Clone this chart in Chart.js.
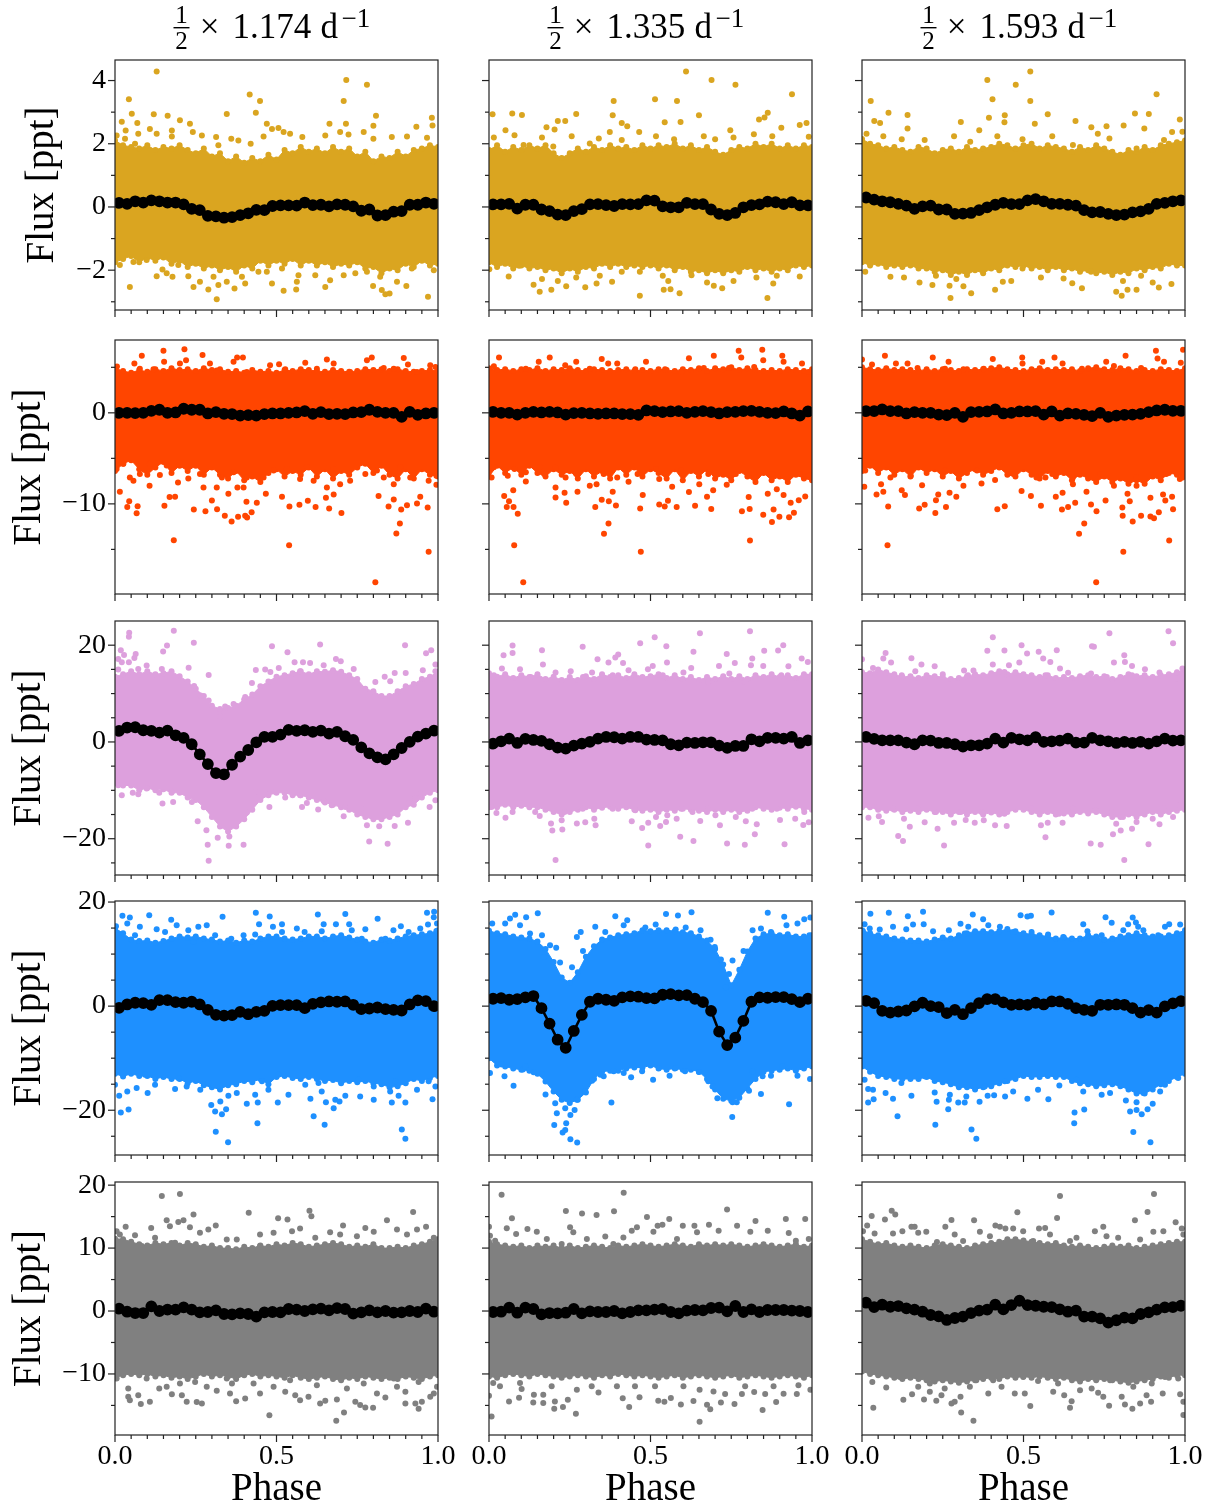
<!DOCTYPE html>
<html>
<head>
<meta charset="utf-8">
<title>Phase folded light curves</title>
<script src="https://cdn.jsdelivr.net/npm/chart.js@4"></script>
<style>
body { margin: 0; background: #fff; }
canvas { position: absolute; }
</style>
</head>
<body>
<script>
// phase of the 40 black bins, and of the edge values of the dense cloud
const binPhase = [.0125,.0375,.0625,.0875,.1125,.1375,.1625,.1875,.2125,.2375,.2625,.2875,.3125,.3375,.3625,.3875,.4125,.4375,.4625,.4875,.5125,.5375,.5625,.5875,.6125,.6375,.6625,.6875,.7125,.7375,.7625,.7875,.8125,.8375,.8625,.8875,.9125,.9375,.9625,.9875];
const edgePhase = [0,.025,.05,.075,.1,.125,.15,.175,.2,.225,.25,.275,.3,.325,.35,.375,.4,.425,.45,.475,.5,.525,.55,.575,.6,.625,.65,.675,.7,.725,.75,.775,.8,.825,.85,.875,.9,.925,.95,.975,1];

const freqs = ["1.174", "1.335", "1.593"];
const rowColors = ["#DAA520", "#FF4500", "#DDA0DD", "#1E90FF", "#808080"];
const yMin = [-3.26, -19.9, -27.5, -28.6, -19.7];
const yMax = [4.65, 8.0, 25, 20.2, 20.5];
const yMajor = [[-2,0,2,4], [-10,0], [-20,0,20], [-20,0,20], [-10,0,10,20]];
const yMinor = [[-3,-1,1,3], [-15,-5,5], [-25,-15,-10,-5,5,10,15], [-25,-15,-10,-5,5,10,15], [-15,-5,5,15]];
const xMajor = [0, .5, 1];
const xMinor = [.05,.1,.15,.2,.25,.3,.35,.4,.45,.55,.6,.65,.7,.75,.8,.85,.9,.95];

// row 1
const curveA1 = [.13,.1,.18,.14,.21,.18,.14,.14,.08,-.06,-.1,-.28,-.3,-.34,-.32,-.26,-.2,-.09,-.1,.03,.05,.05,.04,.14,.06,.07,.02,.08,.07,.02,-.12,-.08,-.27,-.26,-.15,-.13,.07,.07,.14,.1];
const topA1 = [2.1,1.95,1.9,1.85,1.95,1.8,1.9,1.85,1.95,1.8,1.7,1.85,1.6,1.7,1.45,1.6,1.4,1.55,1.45,1.65,1.5,1.8,1.7,1.9,1.75,1.85,1.7,1.9,1.75,1.85,1.6,1.75,1.45,1.6,1.55,1.75,1.6,1.8,1.85,1.95,1.9];
const lowA1 = [-1.75,-1.65,-1.55,-1.75,-1.6,-1.7,-1.6,-1.8,-1.7,-1.9,-1.8,-1.95,-1.85,-2,-1.9,-2.05,-1.85,-1.95,-1.7,-1.85,-1.7,-1.8,-1.65,-1.85,-1.7,-1.85,-1.75,-1.9,-1.8,-1.85,-1.75,-1.95,-1.9,-2.1,-1.95,-2,-1.8,-1.9,-1.7,-1.85,-1.8];
const dotsA1 = [[.129,4.29],[.043,3.41],[.052,2.95],[.021,2.7],[.069,2.66],[.033,2.42],[.12,2.93],[.163,2.89],[.346,2.94],[.417,3.56],[.449,3.35],[.436,2.98],[.47,2.63],[.716,4.02],[.708,3.35],[.78,3.87],[.808,2.89],[.715,2.63],[.8,2.57],[.981,2.82],[.983,2.58],[.933,2.54],[.046,-2.53],[.129,-2.19],[.178,-2.21],[.243,-2.53],[.315,-2.92],[.289,-2.61],[.32,-2.47],[.37,-2.58],[.403,-2.42],[.486,-2.42],[.522,-2.65],[.561,-2.61],[.563,-2.37],[.651,-2.53],[.799,-2.5],[.826,-2.63],[.837,-2.76],[.85,-2.74],[.902,-2.5],[.969,-2.84],[.015,-1.84],[.057,-1.74],[.098,-1.68],[.147,-1.98],[.16,-2.1],[.196,-1.84],[.227,-2.19],[.263,-2.37],[.305,-2.21],[.346,-2.37],[.393,-2.21],[.444,-2.05],[.47,-2.05],[.517,-1.95],[.568,-2.16],[.62,-2.16],[.666,-2.32],[.708,-2.16],[.744,-2.1],[.78,-2.05],[.821,-2.21],[.873,-2.37],[.919,-1.95],[.987,-2],[.005,2.26],[.031,2.16],[.062,2],[.072,2.32],[.108,2.47],[.129,2.32],[.176,2.42],[.176,2.23],[.201,2.74],[.232,2.63],[.241,2.37],[.269,2.26],[.313,2.21],[.32,1.95],[.36,2.16],[.382,2.1],[.42,2],[.46,2.23],[.486,2.47],[.506,2.5],[.522,2.37],[.542,2.32],[.58,2.21],[.651,2.26],[.664,2.63],[.697,2.37],[.723,2.29],[.77,2.37],[.8,2.16],[.857,2.21],[.904,2.23],[.966,2.19]];

const curveA2 = [.08,.08,.1,-.05,.07,.07,-.08,-.13,-.24,-.26,-.13,-.07,.08,.09,.06,.03,.09,.08,.09,.21,.2,.02,-.01,-.01,.13,.09,.09,-.08,-.22,-.26,-.19,-.01,.06,.08,.17,.15,.09,.15,.05,.05];
const topA2 = [1.8,1.95,1.75,1.9,1.8,1.95,1.85,1.95,1.7,1.55,1.7,1.85,1.75,1.9,1.8,1.95,1.85,1.9,1.8,1.95,1.85,1.95,1.9,2,1.85,1.95,1.8,1.9,1.75,1.65,1.8,1.9,1.85,2,1.9,2,1.85,1.95,1.85,1.95,1.9];
const lowA2 = [-1.75,-1.9,-1.8,-1.95,-1.85,-1.95,-1.9,-2,-1.95,-2.1,-1.95,-2.05,-1.9,-1.95,-1.8,-1.9,-1.8,-1.9,-1.85,-1.9,-1.85,-1.95,-1.85,-2,-1.9,-2.05,-2,-2.1,-2,-2.1,-2,-2.05,-1.9,-2,-1.95,-2.05,-1.95,-2,-1.85,-1.9,-1.85];
const dotsA2 = [[.011,2.93],[.072,2.96],[.102,2.91],[.27,2.94],[.386,3.35],[.383,2.9],[.514,3.41],[.582,3.35],[.61,4.29],[.689,4.02],[.763,3.87],[.938,3.57],[.863,2.98],[.853,2.83],[.836,2.77],[.65,2.9],[.544,2.68],[.593,2.69],[.411,2.66],[.428,2.55],[.213,2.72],[.236,2.72],[.178,2.52],[.203,2.45],[.983,2.66],[.962,2.59],[.905,2.51],[.747,2.43],[.465,2.37],[.374,2.37],[.051,2.43],[.015,2.2],[.079,2.27],[.164,2.2],[.256,2.24],[.34,2.17],[.411,2.12],[.517,2.24],[.573,2.14],[.665,2.24],[.7,2.14],[.757,2.2],[.82,2.3],[.877,2.24],[.99,2.22],[.107,1.96],[.199,1.91],[.312,2.01],[.467,-2.81],[.862,-2.88],[.157,-2.68],[.193,-2.62],[.138,-2.46],[.239,-2.51],[.298,-2.54],[.333,-2.42],[.381,-2.37],[.541,-2.62],[.562,-2.6],[.59,-2.73],[.722,-2.57],[.696,-2.49],[.88,-2.42],[.675,-2.39],[.061,-2.2],[.164,-2.28],[.213,-2.34],[.27,-2.23],[.343,-2.18],[.411,-2.05],[.467,-2.05],[.538,-2.18],[.555,-2.34],[.627,-2.16],[.828,-2.23],[.891,-2.18],[.962,-2.2],[.757,-2.34],[.001,-1.97],[.093,-1.86]];

const curveA3 = [.3,.23,.18,.15,.1,.04,-.06,.02,.04,-.08,-.08,-.22,-.21,-.19,-.1,-.01,.07,.13,.09,.09,.21,.25,.18,.1,.1,.07,.04,-.1,-.17,-.16,-.22,-.26,-.24,-.17,-.14,-.06,.1,.13,.18,.21];
const topA3 = [2.15,2,1.95,1.85,1.9,1.8,1.75,1.9,1.85,1.7,1.8,1.85,1.75,1.9,1.8,1.85,1.9,2,1.95,1.85,1.95,2,1.85,1.95,1.9,1.85,1.75,1.9,1.8,1.95,1.85,1.75,1.65,1.8,1.75,1.9,1.8,1.95,2,2.05,2.1];
const lowA3 = [-1.75,-1.85,-1.8,-1.9,-1.85,-1.9,-1.85,-1.95,-1.95,-2.05,-2,-2.15,-2.05,-2.15,-2,-2.1,-1.95,-2,-1.85,-1.9,-1.85,-1.95,-1.9,-2,-1.9,-2,-1.95,-2.05,-2,-2.1,-2.05,-2.15,-2.05,-2.1,-1.95,-2,-1.9,-1.95,-1.8,-1.85,-1.85];
const dotsA3 = [[.027,3.35],[.082,2.98],[.141,2.91],[.388,4.02],[.404,3.41],[.476,3.87],[.521,4.29],[.521,3.35],[.442,2.9],[.575,2.93],[.845,2.96],[.888,2.94],[.912,3.57],[.984,2.77],[.393,2.82],[.306,2.69],[.038,2.72],[.056,2.66],[.441,2.68],[.535,2.63],[.661,2.72],[.71,2.52],[.757,2.55],[.81,2.58],[.874,2.48],[.96,2.37],[.141,2.48],[.363,2.43],[.014,2.32],[.066,2.24],[.123,2.14],[.194,2.12],[.285,2.24],[.335,2.06],[.419,2.24],[.497,2.14],[.589,2.24],[.653,1.96],[.73,2.32],[.766,2.17],[.85,1.85],[.935,2.12],[.992,2.38],[.274,-2.88],[.338,-2.73],[.412,-2.62],[.681,-2.57],[.787,-2.68],[.804,-2.81],[.85,-2.62],[.822,-2.62],[.919,-2.55],[.958,-2.44],[.651,-2.41],[.218,-2.47],[.178,-2.39],[.271,-2.49],[.314,-2.51],[.436,-2.37],[.462,-2.34],[.9,-2.39],[.088,-2.21],[.13,-2.23],[.229,-2.18],[.292,-2.28],[.497,-1.95],[.554,-2.23],[.624,-2.26],[.709,-2.05],[.808,-2.34],[.864,-2.18],[.01,-2.05],[.984,-1.76]];

// row 2
const curveB1 = [0,0,-.04,0,.22,.34,0,.04,.45,.34,.34,-.07,.07,-.11,-.15,-.3,-.26,-.3,-.15,-.07,-.07,0,.04,.19,-.11,.07,-.15,-.11,-.15,.04,.07,.34,.11,0,0,-.45,.11,-.22,-.07,0];
const topB1 = [4.9,4.6,4.4,4.7,4.5,4.8,4.6,4.9,4.7,4.8,4.6,4.9,4.7,4.8,4.5,4.6,4.4,4.7,4.5,4.6,4.4,4.7,4.6,4.8,4.7,4.6,4.5,4.7,4.6,4.5,4.6,4.8,4.7,4.8,4.6,4.8,4.6,4.5,4.6,4.7,4.6];
const lowB1 = [-6.4,-5.6,-5.2,-6.2,-6.8,-6,-5.4,-6.6,-5.8,-6.4,-5.8,-6.8,-6,-6.8,-7.2,-6.4,-7.4,-7,-7.6,-6.6,-6.2,-7,-6.4,-6.8,-6,-7,-6.2,-7.2,-6.4,-6.8,-6,-5.6,-6.6,-5.8,-6.8,-7.2,-6.2,-7.2,-6.2,-6.8,-7];
const dotsB1 = [[.006,5.1],[.083,6.27],[.15,6.83],[.215,6.98],[.271,6.34],[.152,5.6],[.06,5.41],[.201,5.41],[.22,5.78],[.294,5.41],[.378,6.08],[.396,6.08],[.367,5.6],[.48,5.22],[.508,5.34],[.589,5.49],[.656,5.86],[.677,5.41],[.78,5.78],[.795,6.08],[.894,6.01],[.907,5.3],[.976,5.22],[.992,5.04],[.077,4.85],[.119,4.78],[.315,4.66],[.408,4.48],[.527,4.78],[.625,4.85],[.728,4.48],[.832,4.93],[.863,4.85],[.935,4.48],[.806,-18.6],[.182,-14],[.539,-14.55],[.971,-15.26],[.871,-13.25],[.882,-12.16],[.067,-11.04],[.015,-8.66],[.038,-10.34],[.044,-9.7],[.07,-10.26],[.153,-10.22],[.169,-9.25],[.186,-9.22],[.195,-7.65],[.107,-8.02],[.244,-10.63],[.28,-10.82],[.316,-10.6],[.3,-9.63],[.34,-11.3],[.361,-11.94],[.381,-11.42],[.403,-11.3],[.409,-11.5],[.423,-10.93],[.407,-9.78],[.439,-9.89],[.467,-8.88],[.517,-9.22],[.54,-10.3],[.571,-10.11],[.597,-9.66],[.621,-10.34],[.663,-10.52],[.701,-11],[.677,-8.96],[.653,-9.33],[.816,-9.14],[.847,-10.3],[.863,-9.51],[.886,-10.63],[.904,-10.15],[.935,-9.96],[.968,-10.41],[.945,-9.22],[.995,-7.91],[.351,-8.88],[.379,-8.21],[.398,-8.21],[.274,-8.21],[.315,-8.21],[.227,-7.2],[.139,-6.83],[.046,-7.09],[.057,-7.46],[.077,-6.72],[.108,-5.6],[.005,-6.16],[.026,-5.6],[.16,-5.78],[.201,-5.6],[.263,-6.72],[.331,-7.09],[.367,-6.53],[.408,-7.09],[.46,-7.09],[.491,-6.34],[.532,-6.16],[.573,-7.28],[.615,-7.46],[.656,-8.21],[.697,-7.84],[.728,-7.46],[.775,-6.72],[.811,-6.34],[.832,-7.09],[.863,-7.84],[.914,-7.09],[.971,-7.46],[.995,-6.9],[.594,-5.97],[.677,-6.16],[.883,-5.97]];

const curveB2 = [.11,0,0,-.19,0,.11,.04,.11,.04,-.19,-.04,0,-.07,-.11,-.07,-.07,-.15,-.15,-.22,.26,.19,.07,.15,.19,0,.11,.19,.07,-.07,.07,.11,.19,.22,.11,0,-.04,.15,-.07,-.3,.15];
const topB2 = [4.9,4.7,4.8,4.6,4.8,4.7,4.9,4.6,4.8,4.7,4.9,4.7,4.6,4.8,4.7,4.6,4.7,4.8,4.6,4.7,4.6,4.8,4.7,4.6,4.8,4.7,4.9,4.6,4.9,4.8,5,4.7,4.9,4.7,4.6,4.7,4.6,4.8,4.7,4.6,4.8];
const lowB2 = [-7,-5.8,-6.6,-6,-6.8,-5.8,-6.6,-7,-6.2,-6.8,-6.4,-7.2,-6.2,-7,-6.4,-7.2,-6,-6.8,-6,-7,-6.2,-6.6,-7.2,-6.2,-7.4,-6.4,-7,-6.2,-7.2,-6.8,-7.4,-6.4,-7,-7.6,-6.6,-7.4,-7,-7.6,-6.8,-7.2,-7.4];
const dotsB2 = [[.031,6.08],[.188,6.08],[.349,5.9],[.619,6],[.696,6.27],[.773,6.83],[.846,6.94],[.781,6.08],[.908,6.27],[.912,5.6],[.969,5.41],[.849,5.78],[.486,5.6],[.369,5.41],[.27,5.6],[.154,5.6],[.015,5.11],[.236,5.22],[.397,5.41],[.545,4.78],[.665,4.93],[.743,4.93],[.821,5.04],[.99,4.48],[.114,4.85],[.312,4.85],[.453,4.78],[.595,4.48],[.106,-18.6],[.078,-14.55],[.47,-15.26],[.808,-14.03],[.356,-13.28],[.37,-12.16],[.089,-11.08],[.076,-10.34],[.055,-10.34],[.062,-9.7],[.047,-9.14],[.075,-8.51],[.114,-7.54],[.206,-9.29],[.206,-8.21],[.239,-9.89],[.234,-8.77],[.274,-8.66],[.329,-10.34],[.349,-9.55],[.371,-9.7],[.393,-10.19],[.383,-8.66],[.468,-10.52],[.476,-9.03],[.527,-10.07],[.544,-10.3],[.554,-9.66],[.581,-10.34],[.638,-10.22],[.619,-8.69],[.675,-9.22],[.688,-10.56],[.694,-8.51],[.783,-10.82],[.807,-10.56],[.804,-9.25],[.849,-11.19],[.876,-11.98],[.881,-10.63],[.899,-11.42],[.929,-11.46],[.944,-10.97],[.979,-9.18],[.959,-9.59],[.934,-9.89],[.912,-9.03],[.863,-8.88],[.891,-8.4],[.736,-7.91],[.651,-7.84],[.567,-8.13],[.527,-7.28],[.432,-7.57],[.312,-8.02],[.333,-7.84],[.237,-7.09],[.171,-6.72],[.114,-6.53],[.058,-6.9],[.008,-7.09],[.015,-5.97],[.079,-6.16],[.157,-5.97],[.206,-6.04],[.27,-6.72],[.355,-6.72],[.397,-7.09],[.46,-6.72],[.517,-6.16],[.595,-6.34],[.679,-6.72],[.764,-6.72],[.821,-6.72],[.877,-6.72],[.962,-6.72],[.99,-6.9]];

const curveB3 = [.19,.19,.37,.19,.19,-.07,.07,0,0,-.19,-.26,0,-.45,.07,.11,.15,.37,-.07,0,.15,.15,.19,-.19,.15,-.3,-.07,-.11,-.22,-.37,0,-.45,-.3,-.22,-.19,-.11,.07,.26,.34,.22,.22];
const topB3 = [5,4.8,4.7,4.9,4.7,4.8,4.7,4.6,4.8,4.6,4.8,4.7,4.6,4.8,4.7,4.8,4.9,5,4.8,4.7,4.6,4.8,4.9,4.7,4.8,4.7,4.8,4.6,4.9,5,4.8,4.7,4.9,4.8,4.6,4.7,4.6,4.8,4.7,4.6,4.9];
const lowB3 = [-6.4,-5.8,-6.6,-6,-6.8,-6.2,-7,-6,-6.6,-6.2,-7,-6.4,-7.2,-6.6,-6.2,-6.8,-6.4,-6,-6.8,-7,-6.2,-6.8,-7.2,-6.4,-7,-6.6,-7.4,-6.8,-7.2,-7.6,-7,-7.6,-7.2,-7.8,-7.4,-7.8,-7,-7.4,-6.6,-6.8,-7];
const dotsB3 = [[0,5.86],[.071,6.27],[.219,6.08],[.268,5.6],[.405,5.9],[.496,6.08],[.596,6.08],[.558,5.6],[.621,5.41],[.816,6.27],[.756,5.6],[.91,6.83],[.915,5.97],[.994,6.94],[.987,5.49],[.935,5.6],[.031,5.3],[.105,5.41],[.141,5.41],[.257,4.85],[.377,4.85],[.497,5.41],[.681,4.85],[.78,5.15],[.864,4.93],[.172,4.93],[.314,4.78],[.725,-18.6],[.079,-14.55],[.809,-15.26],[.951,-14.03],[.672,-13.28],[.688,-12.16],[.081,-10.3],[.177,-10.52],[.194,-10.11],[.227,-11],[.26,-10.34],[.419,-10.6],[.442,-10.26],[.554,-10.22],[.619,-10.63],[.638,-10.34],[.66,-9.89],[.726,-10.82],[.754,-9.63],[.806,-10.41],[.807,-11.3],[.838,-11.94],[.864,-11.3],[.893,-11.38],[.904,-11.57],[.919,-10.93],[.963,-10.6],[.939,-9.63],[.96,-9.22],[.932,-8.96],[.893,-9.33],[.822,-8.88],[.829,-9.7],[.709,-10.07],[.695,-8.66],[.6,-9.22],[.621,-8.77],[.523,-9.14],[.494,-8.58],[.292,-9.22],[.271,-8.77],[.236,-8.96],[.229,-9.59],[.133,-9.03],[.123,-8.51],[.066,-8.66],[.045,-8.96],[.007,-8.13],[.059,-7.84],[.186,-7.95],[.314,-8.02],[.37,-7.76],[.412,-7.39],[.54,-7.09],[.568,-7.09],[.653,-7.84],[.78,-8.02],[.85,-8.02],[.984,-7.28],[.01,-6.34],[.088,-7.09],[.151,-6.9],[.257,-6.34],[.356,-6.34],[.469,-6.72],[.589,-6.72],[.653,-7.09],[.737,-6.72],[.85,-7.09],[.942,-6.72],[.992,-7.09]];

// row 3
const curveC1 = [2.28,2.98,3.04,2.42,2.28,1.94,2.35,1.38,.83,-.48,-2.56,-4.57,-6.44,-6.71,-4.71,-3.04,-1.66,-.07,1.04,1.04,1.52,2.49,2.28,2.42,2.08,2.35,1.73,2.08,1.18,.42,-1.11,-2.35,-3.18,-3.6,-2.56,-1.25,0,1.11,1.73,2.35];
const topC1 = [13.5,14,14.6,14,14.6,14,14.2,14.6,13.6,12.5,11,9.5,7.5,6.8,7,7.5,8.8,9.8,11.5,12.5,13.5,13.8,14.2,14.6,14,14.6,14.5,14.8,14.5,13.8,13,11,10.5,9.5,9.5,10.5,11.5,12,13,13.5,14.5];
const lowC1 = [-8.5,-9,-9,-10,-9.5,-10,-9.8,-10.5,-10.5,-11.5,-12,-13.5,-15.5,-17.5,-18.5,-17.5,-16,-14,-12,-11,-10.5,-10.5,-11,-11,-11.5,-12,-12.5,-13,-13.5,-14,-15,-15.5,-16,-16,-15.5,-15,-13.5,-13,-11.5,-10.5,-10];
const dotsC1 = [[.182,22.98],[.044,22.56],[.043,21.73],[.244,20.48],[.161,19.93],[.149,18.69],[.018,18.96],[.028,17.99],[.064,18.2],[.01,17.16],[.021,16.47],[.043,16.47],[.06,17.37],[.098,15.78],[.072,15.09],[.145,15.09],[.228,15.36],[.01,14.95],[.29,13.84],[.245,11.56],[.265,9.62],[.29,8.58],[.486,19.79],[.635,20.14],[.534,18.55],[.898,20],[.979,18.96],[.963,18.34],[.556,16.47],[.582,16.47],[.604,16.33],[.646,15.85],[.684,17.16],[.699,16.68],[.436,14.88],[.465,14.95],[.507,15.29],[.481,14.46],[.739,15.09],[.806,12.39],[.835,13.49],[.866,14.26],[.9,14.26],[.953,14.81],[.992,15.99],[.992,14.6],[.852,12.53],[.573,14.6],[.424,12.18],[.367,7.82],[.403,9.27],[.325,5.26],[.341,7.34],[.29,-24.57],[.287,-21.25],[.352,-21.45],[.398,-21.25],[.354,-19.52],[.318,-19.79],[.283,-18.27],[.256,-16.4],[.787,-20.55],[.844,-21.04],[.78,-17.23],[.866,-17.37],[.818,-17.44],[.907,-16.68],[.708,-15.36],[.629,-13.98],[.478,-13.43],[.408,-14.6],[.147,-12.73],[.18,-12.39],[.072,-10.8],[.021,-11],[.055,-10.52],[.137,-10.52],[.579,-13.43],[.594,-12.6],[.974,-13.43],[.992,-12.04],[.945,-10.66],[.468,-10.8],[.527,-11.49],[.646,-12.18],[.671,-13.08],[.713,-13.43],[.764,-13.77],[.01,-8.93],[.098,-9.62],[.176,-10.31],[.238,-12.39],[.434,-10.31],[.496,-10.31],[.573,-11],[.909,-12.73],[.93,-11.7]];

const curveC2 = [-.34,.14,.69,-.21,.62,.41,.21,-.48,-1.17,-1.38,-.76,-.34,0,.69,1.03,.97,.69,1.03,1.03,.48,.41,.34,-.48,-.69,-.14,-.21,-.07,-.07,-.76,-1.24,-.83,-.83,.55,.14,.83,.83,.69,1.03,-.21,.34];
const topC2 = [14.2,13.5,14,13.2,13.8,13.4,14,13,13.5,12.8,13.4,12.8,13.6,13,14,13.4,13.8,13.2,14,13.4,13.6,14,13.2,13.8,13,13.4,12.8,13.4,13,13.6,13,13.6,13,13.8,13.4,14,13.4,13.8,13.2,14,14];
const lowC2 = [-13.5,-13.5,-13,-13.5,-13.2,-13.5,-13.5,-14,-14.5,-15,-14.5,-14,-13.5,-14,-13.6,-13.4,-13.8,-13.5,-14,-14.2,-14,-14.5,-14,-14.2,-13.8,-14,-14.2,-14.5,-14,-14.5,-14,-14.5,-14.2,-13.5,-13.8,-14,-13.6,-13.8,-13.4,-13.8,-14];
const dotsC2 = [[.808,22.9],[.653,22.48],[.513,21.66],[.468,20.41],[.549,19.79],[.073,19.93],[.073,18.41],[.045,17.93],[.164,18.97],[.29,19.66],[.633,18.62],[.911,20],[.895,18.9],[.852,18.83],[.736,18.2],[.815,17.24],[.968,17.24],[.987,16.55],[.4,18.07],[.391,17.45],[.336,17.1],[.37,16.41],[.415,16.34],[.551,16.41],[.507,15.72],[.492,15.03],[.167,16],[.04,15.17],[.096,15.03],[.206,14.34],[.253,14.62],[.319,14.34],[.432,14.83],[.602,14.34],[.626,15.31],[.712,15.72],[.761,16.34],[.744,14.14],[.811,15.86],[.849,15.72],[.927,15.66],[.015,13.79],[.129,13.45],[.291,13.45],[.383,13.79],[.538,13.79],[.679,12.41],[.983,13.45],[.905,13.79],[.792,12.41],[.206,-24.41],[.493,-21.38],[.592,-19.59],[.633,-20.48],[.737,-20.97],[.792,-21.24],[.915,-21.17],[.823,-19.1],[.196,-18.28],[.227,-18.07],[.192,-16.83],[.33,-17.24],[.298,-16.62],[.272,-16.83],[.474,-17.79],[.442,-16.41],[.53,-17.38],[.493,-16.69],[.548,-16.55],[.973,-17.17],[.99,-16.62],[.829,-17.03],[.795,-16.41],[.901,-16.14],[.715,-17.24],[.654,-16.34],[.023,-14.69],[.051,-15.66],[.073,-14.48],[.143,-14.48],[.157,-15.31],[.225,-16.2],[.234,-14.48],[.326,-15.86],[.383,-13.79],[.453,-14.14],[.517,-15.52],[.552,-15.17],[.581,-15.86],[.63,-14.48],[.701,-15.17],[.764,-15.52],[.815,-13.79],[.948,-15.86],[.976,-14.48],[.595,-13.79],[.679,-13.79],[.891,-13.79],[.008,-13.45],[.102,-12.76],[.29,-13.79]];

const curveC3 = [1.03,.62,.34,.34,.34,-.14,-.48,.34,.28,-.21,-.21,-.48,-.97,-.69,-.69,-.34,.69,-.14,.83,.55,.34,.97,0,.14,.28,.69,-.14,-.14,.83,.34,.14,-.21,0,-.21,0,-.34,.14,.69,.28,.34];
const topC3 = [14.4,14.2,15,14.4,14,13.4,13.6,13.2,13.8,13.6,13.4,13,13.2,13.6,14,13.8,14.2,14.6,14,14.4,14,13.8,13.4,13.8,13.2,13.4,13.2,13.6,13.8,13.4,13.6,13,13.4,14,13.6,13.8,13.4,13.8,14,14.4,15];
const lowC3 = [-13.5,-13.5,-14,-14.2,-14,-14.5,-14.2,-14.5,-14,-14.5,-14.5,-15,-14.5,-15,-14.5,-15,-14.6,-15,-14.5,-14,-14,-14.5,-15,-14.5,-15,-14.8,-15,-14.5,-14.8,-14.5,-15,-15.5,-15.5,-15,-15.5,-15,-14.5,-15,-14.5,-14.2,-14];
const dotsC3 = [[.949,22.9],[.766,22.48],[.405,21.66],[.494,20],[.712,19.79],[.718,19.66],[.963,20.41],[.388,18.83],[.441,18.9],[.511,18.28],[.603,18.97],[.547,18.62],[.812,17.93],[0,17.1],[.073,18.41],[.066,17.24],[.09,16.41],[.153,17.31],[.184,16],[.583,16.55],[.561,17.24],[.78,16.41],[.814,16.55],[.836,15.72],[.992,15.17],[.034,15.31],[.165,14.62],[.225,15.66],[.25,14],[.316,14.76],[.345,14.76],[.405,16],[.455,15.86],[.487,16.41],[.613,15.17],[.638,14.28],[.709,14.14],[.758,13.45],[.876,15.03],[.921,14.34],[.017,13.79],[.123,13.79],[.328,13.79],[.441,14.48],[.568,13.79],[.836,13.79],[.977,13.1],[.812,-24.41],[.254,-21.38],[.127,-20.48],[.112,-19.45],[.568,-19.72],[.708,-20.97],[.739,-21.24],[.887,-21.17],[.777,-19.1],[.234,-17.93],[.148,-17.55],[.412,-17.24],[.448,-17.38],[.285,-16.69],[.194,-16.62],[.062,-16.55],[.02,-15.66],[.052,-15.38],[.13,-15.86],[.321,-16.14],[.349,-16.69],[.377,-16.2],[.554,-17.24],[.575,-16.69],[.621,-16.69],[.801,-18.28],[.836,-17.93],[.787,-16.9],[.921,-17.03],[.963,-15.52],[.85,-16.55],[.9,-15.86],[.808,-15.52],[.01,-12.07],[.045,-13.45],[.095,-13.79],[.172,-13.79],[.229,-14.48],[.306,-14.48],[.37,-14.48],[.441,-14.83],[.525,-13.79],[.61,-14.83],[.653,-13.79],[.723,-14.14],[.773,-14.48],[.935,-13.79],[.984,-13.1]];

// row 4
const curveD1 = [-.32,.32,.65,.58,.26,1.16,1.16,.77,.65,.84,.32,-.71,-1.68,-1.81,-1.74,-1.1,-1.55,-1.1,-.9,.06,.19,.19,.19,-.39,.45,.71,.9,.84,.9,.26,-.58,-.45,-.26,-.58,-.71,-.84,.32,1.1,.97,0];
const topD1 = [15,14,12.8,12.5,12.6,12.2,12.5,13,13.4,13.2,13.4,13,12.8,12.4,12.6,12.2,12.6,12.4,13,13.4,13.4,13,12.8,13,13.4,13.4,13,13.4,13.6,13.2,12.8,12.4,12.2,12.8,12.6,13,13.4,13.6,13.8,14,14.6];
const lowD1 = [-13,-13.5,-13,-13.4,-13.4,-14,-13.6,-14,-14,-14.8,-14.4,-15.2,-15.6,-16,-15.2,-15,-14.4,-14.6,-14,-15,-13.6,-13.4,-13.8,-14,-13.6,-14,-14.4,-14.2,-14.8,-14.4,-14.6,-14.4,-14.8,-15,-15.6,-15.4,-14.8,-14,-14.4,-13.8,-13.4];
const dotsD1 = [[.003,15.35],[.023,17.35],[.046,17.03],[.038,15.87],[.106,17.48],[.174,16.58],[.129,14.77],[.077,15.23],[.062,13.61],[.191,15.55],[.155,14.26],[.227,14.58],[.258,15.23],[.284,15.55],[.243,12.32],[.333,17.16],[.31,13.61],[.36,12.97],[.436,17.94],[.446,15.74],[.479,17.23],[.398,13.61],[.434,13.74],[.489,15.23],[.517,15.74],[.563,14.9],[.517,14.26],[.587,14.26],[.628,17.61],[.646,15.74],[.684,15.74],[.713,17.68],[.725,15.74],[.733,14.58],[.64,14.39],[.813,16.77],[.775,14.77],[.764,12.97],[.862,14.58],[.885,15.35],[.909,14.26],[.966,17.94],[.988,18.13],[.987,17.1],[.969,15.68],[.997,15.87],[.945,14.9],[.995,14.45],[.837,12.97],[.35,-26.13],[.312,-24.13],[.899,-25.48],[.888,-23.68],[.441,-22.52],[.649,-22.77],[.615,-21.16],[.018,-20.45],[.042,-19.87],[.331,-20.77],[.344,-19.81],[.31,-20.26],[.298,-18.97],[.326,-18.32],[.677,-19.61],[.682,-18],[.408,-18.77],[.442,-18.52],[.504,-18.52],[.605,-17.81],[.653,-18.45],[.695,-18.32],[.801,-18],[.857,-18.52],[.899,-18.52],[.983,-17.87],[.013,-17.23],[.038,-16.39],[.101,-16.71],[.067,-15.74],[.124,-15.1],[.186,-15.94],[.222,-15.42],[.264,-16.06],[.351,-17.23],[.377,-16.71],[.434,-17.03],[.475,-16.06],[.537,-17.03],[.589,-15.1],[.64,-16.39],[.713,-17.23],[.759,-17.35],[.801,-15.42],[.852,-16.39],[.878,-17.23],[.935,-16.06],[.992,-15.42],[0,-15.1],[.093,-13.16],[.196,-13.81],[.289,-14.77],[.455,-14.45],[.506,-13.16],[.63,-14.77],[.754,-14.13],[.868,-14.45],[.971,-14.45]];

const curveD2 = [1.42,1.55,1.23,1.35,1.68,1.94,-.39,-3.35,-6.45,-8,-4.77,-1.68,.84,1.42,1.23,1.03,1.68,1.87,1.81,1.55,1.48,2.19,2.32,2.06,2.13,1.42,.77,-.9,-4.9,-7.48,-6.06,-2.84,.84,1.68,1.61,1.74,1.74,1.35,.77,1.42];
const topD2 = [14.5,14,13.8,13.4,13.2,13,12.4,11,8.5,5.5,4.5,6.5,9.5,11.5,12.8,13.2,13.6,13.8,14,14.6,14.4,14.6,14.6,14.4,14.2,14,13.4,12.6,11,8,4,7,10.5,13,13.8,14,13.6,13.8,13.4,13.4,13.6];
const lowD2 = [-10,-11.4,-11.6,-12,-12.2,-12.4,-13,-14.5,-16.4,-18,-18.6,-18,-16.6,-14,-12.6,-12.4,-12.4,-12,-11.8,-11.8,-11.4,-12,-12.2,-12,-12.2,-12.2,-12.6,-14,-16,-17.8,-18.2,-17.6,-15.8,-14,-12.6,-12.4,-12.2,-12,-12.4,-12,-11.6];
const dotsD2 = [[.01,15.87],[.081,17.55],[.115,17.1],[.151,17.87],[.065,16.84],[.05,15.87],[.096,15.55],[.127,13.94],[.164,13.61],[.189,11.68],[.208,11.23],[.169,9.42],[.22,8.39],[.272,13.29],[.284,14.26],[.291,10.58],[.257,7.48],[.329,15.23],[.36,14.26],[.391,17.29],[.428,16.52],[.417,15.55],[.484,15.1],[.516,15.68],[.548,17.68],[.585,17.42],[.627,18.06],[.578,14.71],[.609,15.1],[.655,14.58],[.686,12.77],[.699,11.35],[.718,8.97],[.754,8.77],[.788,10.58],[.816,14.58],[.842,14.9],[.863,17.94],[.914,17.16],[.921,15.55],[.873,14.26],[.955,15.87],[.976,16.71],[.995,17.03],[.992,13.61],[.743,6.19],[.733,3.61],[.273,-26.19],[.252,-25.55],[.236,-23.81],[.228,-24.26],[.202,-22.84],[.239,-22.52],[.252,-20.9],[.21,-20.58],[.265,-19.94],[.205,-18.65],[.236,-19.61],[.272,-18],[.175,-16.97],[.753,-21.29],[.379,-18.52],[.929,-18.84],[.842,-16.9],[.707,-17.68],[.754,-18.45],[.767,-18.45],[.805,-16.26],[.692,-15.42],[.679,-14.45],[.298,-16.39],[.319,-14.32],[.076,-15.29],[.048,-13.48],[.003,-12.84],[.138,-12.71],[.105,-12.19],[.164,-13.03],[.345,-13.16],[.355,-13.48],[.386,-12.52],[.417,-12.84],[.44,-13.68],[.508,-14.13],[.559,-13.35],[.607,-12.52],[.65,-12.65],[.847,-13.48],[.873,-13.35],[.955,-13.35],[.994,-14],[.039,-11.23],[.112,-11.55],[.474,-12.52],[.526,-11.87],[.578,-11.87],[.816,-12.52],[.909,-11.55]];

const curveD3 = [1.03,.58,-.9,-1.23,-1.03,-.84,-.06,.65,0,-.19,-1.35,-.71,-1.55,-.39,.58,1.35,1.35,.71,.26,.32,.26,.65,.32,.9,.9,.45,-.39,-.71,-.9,.26,.26,.32,.26,-.39,-1.23,-.77,-1.23,-.06,.52,.97];
const topD3 = [14.6,14,13.6,13.4,13,12.8,12.6,12.6,12.4,12.8,13.2,13,13.6,14,14.4,14.4,14.2,14.4,14.8,14.4,14,13.8,13.6,13.4,13,13.2,13,13,13.6,13.4,12.8,13,13.4,13.6,14,13.6,13.4,13.4,13.6,14,14.6];
const lowD3 = [-11.6,-12.6,-13.4,-13.6,-14,-14,-14,-14,-13.6,-14.4,-14.6,-15,-15.6,-15.6,-16,-15.6,-15.4,-14.8,-14.4,-14,-13.4,-13.6,-13.6,-13.4,-13.6,-13.6,-14.4,-14.8,-15,-15.4,-15.2,-15,-15.4,-16,-16.8,-16.8,-16,-15,-14.4,-13.6,-13];
const dotsD3 = [[.026,17.74],[.083,17.94],[.189,18.13],[.142,17.29],[.343,17.61],[.491,17.48],[.512,17.23],[.523,17.35],[.587,18],[.754,17.1],[.838,17.03],[.008,15.74],[.024,14.9],[.055,14.71],[.096,15.23],[.137,14.77],[.158,15.68],[.191,15.74],[.22,14.39],[.305,15.81],[.329,15.23],[.375,16.71],[.318,13.94],[.269,14.58],[.391,15.55],[.427,15.23],[.468,14.26],[.525,14.26],[.576,13.74],[.685,15.74],[.698,14.39],[.623,13.29],[.742,13.61],[.773,16],[.824,15.74],[.848,16.06],[.855,15.23],[.809,14.58],[.871,14.58],[.917,13.61],[.938,15.23],[.951,15.74],[.985,15.68],[.99,13.61],[.003,14.39],[.893,-26.13],[.354,-25.48],[.339,-23.68],[.84,-24.19],[.227,-22.77],[.11,-21.16],[.657,-22.52],[.658,-20.45],[.688,-19.87],[.267,-19.81],[.85,-19.94],[.884,-19.81],[.866,-20.77],[.83,-20.26],[.9,-18.77],[.817,-18.13],[.85,-18.45],[.019,-18.52],[.036,-17.87],[.096,-17.81],[.231,-18.39],[.269,-18],[.298,-18.52],[.318,-18.52],[.364,-18.39],[.389,-17.23],[.409,-17.1],[.443,-17.35],[.512,-17.81],[.577,-17.87],[.019,-15.94],[.034,-16.06],[.073,-16.71],[.153,-17.23],[.225,-16.58],[.272,-17.03],[.323,-17.35],[.38,-15.42],[.468,-16.39],[.545,-16.06],[.611,-15.23],[.685,-16.39],[.742,-17.03],[.768,-16.71],[.871,-16.71],[.923,-16.39],[.938,-15.1],[.979,-13.81],[.008,-14.13],[.122,-14.77],[.194,-13.48],[.442,-14.45],[.613,-12.84],[.664,-14.13]];

// row 5
const curveE1 = [.37,-.11,-.32,-.32,.74,0,.21,.21,.58,.21,-.21,-.16,.11,-.47,-.53,-.37,-.47,-.89,-.21,-.16,-.21,.32,.21,0,.26,.37,.11,.47,.32,-.42,-.21,.11,-.21,0,-.26,-.21,0,-.16,.37,-.11];
const topE1 = [11.5,11.4,11,10.6,10.4,10.8,10.6,10.8,10.4,10.8,10.6,10.2,10.4,10,10,9.8,10.2,10,10.4,10.2,10.6,10.4,10.8,10.6,10.2,10.4,10.6,10.8,10.6,10.2,10.4,10.2,10.6,10,10,10.2,10,10.4,10.6,11,11.4];
const lowE1 = [-10.6,-10.2,-10,-10.2,-10,-10.4,-10.2,-10.6,-10.4,-10.8,-10.4,-10,-10.4,-10.2,-10.4,-10.8,-10.2,-10,-10.4,-10.2,-10.4,-10.6,-10.2,-10.6,-10.8,-10.6,-10.4,-10.8,-11,-10.6,-10.8,-10.4,-10.6,-10.8,-10.6,-10.8,-10.4,-10.6,-10.8,-10.4,-10.2];
const dotsE1 = [[.145,18.26],[.201,18.58],[.414,15.63],[.602,15.95],[.608,15.05],[.923,15.74],[.243,15.32],[.505,14.74],[.534,14.53],[.16,14.42],[.196,14.16],[.212,14.42],[.033,13.37],[.112,13.21],[.312,13.58],[.706,13.58],[.775,13.21],[.842,14.42],[.963,13.37],[.005,12.68],[.062,12.05],[.015,12.16],[.124,11.63],[.17,13.47],[.186,10.84],[.232,13.32],[.263,12.42],[.289,12.95],[.346,11.37],[.377,11.37],[.449,12.16],[.491,12.42],[.548,12.68],[.573,13.11],[.62,11.63],[.666,12.53],[.697,12.16],[.749,11.89],[.801,12.58],[.873,12.95],[.935,12.95],[.987,11.63],[.904,12.16],[.083,10.32],[.449,10.32],[.685,-17.42],[.478,-16.58],[.709,-16.11],[.94,-15.53],[.93,-14.68],[.759,-14.95],[.799,-15.37],[.775,-15.32],[.744,-14.42],[.635,-14.68],[.687,-14.05],[.651,-14.26],[.599,-13.63],[.573,-14.16],[.558,-13.37],[.527,-12.84],[.449,-13.11],[.403,-13.89],[.375,-14.32],[.356,-13.11],[.315,-12.68],[.269,-14.68],[.253,-14.47],[.222,-14.42],[.207,-13.37],[.108,-14.42],[.08,-14.79],[.046,-14.16],[.041,-13.63],[.072,-13.37],[.137,-12.32],[.16,-12.05],[.176,-13.21],[.284,-12.05],[.362,-11.53],[.429,-11.53],[.491,-12.05],[.718,-12.32],[.811,-13.11],[.837,-13.74],[.899,-14.68],[.899,-12.84],[.873,-12.05],[.95,-14.42],[.987,-13.11],[.976,-13.63],[.997,-12.05],[.005,-10.74],[.041,-12.32],[.098,-10.74],[.201,-11.53],[.248,-11.26],[.346,-10.74],[.542,-11],[.625,-11.79],[.677,-10.47],[.77,-11.53],[.863,-10.74],[.94,-11.26]];

const curveE2 = [-.16,-.11,.53,-.27,.53,.32,-.53,-.32,-.37,-.27,.32,-.37,-.05,-.16,-.16,0,-.37,-.16,.11,.11,.21,.32,-.16,-.37,.05,.16,.11,.48,.53,-.05,.8,-.16,.27,-.16,.16,.16,.16,.05,0,-.16];
const topE2 = [11,10.6,10.4,10.2,10.4,10,10.4,10.2,10.4,10,10.4,10,10.2,10.4,10.2,10,10.4,10.2,10.4,10.6,10.4,10.2,10.4,10.6,10.4,10.2,10.6,10.4,10.6,10.4,10.6,10.4,10.2,10.4,10.6,10.4,10.2,10.4,10.6,10.2,10.4];
const lowE2 = [-10.4,-10.6,-10.2,-10,-10.2,-10.4,-10,-10.2,-10.4,-10.6,-10.4,-10.2,-10.4,-10.6,-10.2,-10.4,-10,-10.2,-10.4,-10.2,-10.4,-10.6,-10.4,-10.2,-10.6,-10.4,-10.2,-10.4,-10.6,-10.4,-10.2,-10.6,-10.4,-10.2,-10.4,-10.6,-10.4,-10.2,-10.4,-10.6,-10.2];
const dotsE2 = [[.039,18.46],[.417,18.78],[.737,16.12],[.071,14.73],[.238,15.9],[.288,15.48],[.333,15.27],[.387,15.85],[.489,14.95],[.558,14.63],[.537,13.72],[.919,14.63],[.979,14.63],[.6,13.56],[.636,13.56],[.681,13.72],[.768,13.56],[.825,14.31],[0,13.4],[.055,13.14],[.119,13.03],[.251,13.3],[.458,13.3],[.522,13.56],[.863,12.77],[.928,12.39],[.003,11.97],[.084,12.23],[.148,12.61],[.179,11.44],[.261,12.5],[.303,11.44],[.36,11.86],[.416,11.7],[.442,12.77],[.509,12.61],[.582,11.44],[.644,12.5],[.711,12.77],[.809,12.61],[.95,11.17],[.99,11.44],[.019,11.17],[.225,10.64],[.385,10.64],[.652,-17.61],[.008,-16.76],[.269,-16.33],[.847,-15.74],[.202,-15.53],[.229,-15.27],[.434,-15.27],[.685,-15.59],[.675,-14.89],[.594,-14.84],[.76,-14.79],[.062,-14.36],[.137,-14.52],[.168,-14.63],[.204,-14.36],[.244,-14.1],[.524,-14.26],[.543,-14.41],[.633,-14.31],[.718,-14.52],[.889,-14.47],[.093,-13.78],[.414,-13.88],[.466,-13.72],[.563,-13.83],[0,-13.46],[.139,-13.3],[.168,-13.3],[.339,-12.93],[.652,-12.5],[.695,-12.77],[.731,-13.19],[.783,-13.19],[.821,-12.87],[.855,-13.19],[.912,-13.14],[.953,-13.19],[.995,-12.5],[.013,-11.44],[.034,-11.97],[.096,-11.44],[.101,-12.39],[.194,-11.97],[.272,-12.5],[.318,-11.97],[.396,-11.97],[.452,-11.97],[.514,-11.97],[.602,-11.97],[.793,-11.97],[.881,-11.97],[.958,-11.81]];

const curveE3 = [1.32,.63,1,.68,.79,.42,.21,-.11,-.63,-.84,-1.42,-1.11,-.89,-.32,.05,.21,1,.26,.95,1.63,.95,.84,.68,.63,.26,-.11,.05,-.89,-.89,-1.16,-1.84,-1.47,-1.05,-1.16,-.47,-.21,.21,.58,.63,.84];
const topE3 = [11.4,11,10.6,10.8,10.4,10.2,10.4,10.2,10,10.4,10.6,10.4,10.2,10,10.4,10.6,10.8,11,11.4,11.4,11.2,11,10.8,10.6,10.8,10.4,10.2,10.4,10.2,10,10.2,10.4,10.2,10.4,10,10.2,10.4,10.6,10.8,11,11];
const lowE3 = [-9.6,-10,-10.2,-10.4,-10.6,-10.8,-10.6,-10.8,-11,-11.2,-11,-11.2,-11.4,-11.2,-11,-10.8,-10.6,-10.8,-10.4,-10.6,-10.4,-10.6,-10.4,-10.6,-10.8,-10.6,-11,-11.2,-10.8,-11,-10.8,-11,-11.2,-11.4,-11.2,-11,-10.8,-10.4,-10.6,-10.2,-10.2];
const dotsE3 = [[.613,18.26],[.904,18.58],[.092,15.95],[.103,15.32],[.03,15.11],[.071,14.53],[.481,15.68],[.604,14.79],[.884,15.74],[.845,14.42],[.971,14.11],[.277,14.47],[.347,14.42],[.016,13.58],[.258,13.37],[.413,13.58],[.427,13.37],[.444,13.11],[.468,13.11],[.548,13.11],[.567,13.21],[.747,13.37],[.153,13.37],[.163,13.37],[.003,12.68],[.039,12.32],[.096,12.32],[.125,12.68],[.199,12.58],[.287,12.16],[.365,12.58],[.499,12.68],[.582,12.16],[.644,11.11],[.721,12.68],[.793,11.63],[.902,12.58],[.933,12.68],[.99,13.11],[.995,12.16],[.174,12.42],[.232,10.95],[.313,11.11],[.396,11.89],[.53,11.11],[.664,11.63],[.757,11.89],[.861,11.37],[.345,-17.42],[.307,-16.11],[.035,-15.37],[.521,-15.11],[.644,-15.37],[.995,-16.53],[.837,-15.53],[.765,-15.05],[.814,-14.84],[.861,-14.68],[.895,-14.42],[.128,-14.11],[.192,-14.05],[.23,-14.26],[.277,-14.68],[.287,-14.42],[.305,-13.63],[.155,-13.21],[.21,-12.84],[.246,-13.37],[.473,-13.11],[.504,-13.11],[.391,-13.11],[.592,-12.84],[.626,-13.37],[.649,-14.32],[.731,-13],[.747,-13.63],[.804,-13.63],[.881,-13.37],[.931,-13.11],[.985,-13.21],[.995,-14.42],[.075,-12.16],[.032,-11.26],[.174,-12.05],[.21,-11.53],[.256,-12.32],[.334,-12.05],[.432,-12.05],[.406,-11],[.545,-11.11],[.607,-11.53],[.675,-12.58],[.711,-12.32],[.84,-12.05],[.897,-11.53],[.938,-10.47],[.979,-10.74],[.117,-10.47],[.354,-11],[.499,-10.47],[.768,-11]];

const curves = [[curveA1,curveA2,curveA3],[curveB1,curveB2,curveB3],[curveC1,curveC2,curveC3],[curveD1,curveD2,curveD3],[curveE1,curveE2,curveE3]];
const tops = [[topA1,topA2,topA3],[topB1,topB2,topB3],[topC1,topC2,topC3],[topD1,topD2,topD3],[topE1,topE2,topE3]];
const lows = [[lowA1,lowA2,lowA3],[lowB1,lowB2,lowB3],[lowC1,lowC2,lowC3],[lowD1,lowD2,lowD3],[lowE1,lowE2,lowE3]];
const dots = [[dotsA1,dotsA2,dotsA3],[dotsB1,dotsB2,dotsB3],[dotsC1,dotsC2,dotsC3],[dotsD1,dotsD2,dotsD3],[dotsE1,dotsE2,dotsE3]];

const colLeft = [115, 489, 862];
const colWidth = 323;
const rowTop = [60, 340, 621, 901, 1182];
const rowHeight = [250, 254, 254, 254, 253];
const FONT = "'Liberation Serif', serif";
const INK = "#222";

// axes box, tick marks (major and minor) and the column heading
const framePlugin = {
    id: "frame",
    afterDraw(chart, args, opts) {
        const ctx = chart.ctx;
        const a = chart.chartArea;
        ctx.save();
        ctx.strokeStyle = INK;
        ctx.lineWidth = 1.2;
        ctx.strokeRect(a.left, a.top, a.right - a.left, a.bottom - a.top);
        const mark = (vals, scale, len, horizontal) => {
            vals.forEach(v => {
                const p = scale.getPixelForValue(v);
                ctx.beginPath();
                if (horizontal) { ctx.moveTo(p, a.bottom); ctx.lineTo(p, a.bottom + len); }
                else { ctx.moveTo(a.left, p); ctx.lineTo(a.left - len, p); }
                ctx.stroke();
            });
        };
        mark(xMajor, chart.scales.x, 7, true);
        mark(xMinor, chart.scales.x, 4, true);
        mark(opts.yMajor, chart.scales.y, 7, false);
        mark(opts.yMinor, chart.scales.y, 4, false);

        if (opts.freq) {
            const m = (a.left + a.right) / 2;
            ctx.fillStyle = "#000";
            ctx.textBaseline = "alphabetic";
            ctx.textAlign = "center";
            ctx.font = "25px " + FONT;
            ctx.fillText("1", m - 95, a.top - 37);
            ctx.fillText("2", m - 95, a.top - 11);
            ctx.fillRect(m - 103, a.top - 33, 16, 1.4);
            ctx.font = "35px " + FONT;
            ctx.fillText("×", m - 67, a.top - 22);
            ctx.textAlign = "left";
            ctx.fillText(opts.freq, m - 44, a.top - 22);
            ctx.fillText("d", m + 44, a.top - 22);
            ctx.font = "27px " + FONT;
            ctx.fillText("\u22121", m + 65, a.top - 33);
        }
        ctx.restore();
    }
};

const LEFT = 110, RIGHT = 28, TOP = 60, BOTTOM = 74;

function makePanel(r, c) {
    const canvas = document.createElement("canvas");
    canvas.width = LEFT + colWidth + RIGHT;
    canvas.height = TOP + rowHeight[r] + BOTTOM;
    canvas.style.left = (colLeft[c] - LEFT) + "px";
    canvas.style.top = (rowTop[r] - TOP) + "px";
    document.body.appendChild(canvas);

    const color = rowColors[r];
    const edge = vals => vals.map((v, i) => ({ x: edgePhase[i], y: v }));

    new Chart(canvas.getContext("2d"), {
        type: "scatter",
        data: {
            datasets: [
                {
                    data: curves[r][c].map((v, i) => ({ x: binPhase[i], y: v })),
                    showLine: true,
                    borderColor: "#000",
                    borderWidth: 2.6,
                    backgroundColor: "#000",
                    pointRadius: 4.6,
                    order: 0,
                    clip: 0
                },
                {
                    data: dots[r][c].map(d => ({ x: d[0], y: d[1] })),
                    backgroundColor: color,
                    borderWidth: 0,
                    pointRadius: 3,
                    order: 1,
                    clip: 0
                },
                {
                    data: edge(tops[r][c]),
                    showLine: true,
                    fill: "+1",
                    borderColor: color,
                    backgroundColor: color,
                    borderWidth: 1,
                    pointRadius: 3,
                    pointBorderWidth: 0,
                    order: 2,
                    clip: 0
                },
                {
                    data: edge(lows[r][c]),
                    showLine: true,
                    borderColor: color,
                    backgroundColor: color,
                    borderWidth: 1,
                    pointRadius: 3,
                    pointBorderWidth: 0,
                    order: 3,
                    clip: 0
                }
            ]
        },
        plugins: [framePlugin],
        options: {
            responsive: false,
            animation: false,
            layout: { padding: { top: TOP, left: 0, right: RIGHT, bottom: 0 } },
            plugins: {
                legend: { display: false },
                tooltip: { enabled: false },
                frame: { yMajor: yMajor[r], yMinor: yMinor[r], freq: r === 0 ? freqs[c] : null }
            },
            scales: {
                x: {
                    type: "linear",
                    min: 0,
                    max: 1,
                    afterBuildTicks: s => { s.ticks = xMajor.map(v => ({ value: v })); },
                    afterFit: s => { s.height = BOTTOM; },
                    grid: { display: false, drawTicks: false },
                    border: { display: false },
                    ticks: {
                        display: r === 4,
                        autoSkip: false,
                        maxRotation: 0,
                        padding: 5,
                        color: "#000",
                        font: { family: FONT, size: 28 },
                        callback: v => v.toFixed(1)
                    },
                    title: {
                        display: r === 4,
                        text: "Phase",
                        color: "#000",
                        font: { family: FONT, size: 39, lineHeight: 1 },
                        padding: 0
                    }
                },
                y: {
                    min: yMin[r],
                    max: yMax[r],
                    afterBuildTicks: s => { s.ticks = yMajor[r].map(v => ({ value: v })); },
                    afterFit: s => { s.width = LEFT; },
                    grid: { display: false, drawTicks: false },
                    border: { display: false },
                    ticks: {
                        display: c === 0,
                        autoSkip: false,
                        padding: 9,
                        color: "#000",
                        font: { family: FONT, size: 28 },
                        callback: v => String(v).replace("-", "\u2212")
                    },
                    title: {
                        display: c === 0,
                        text: "Flux [ppt]",
                        color: "#000",
                        font: { family: FONT, size: 39, lineHeight: 1 },
                        padding: { top: r === 0 ? 18 : 5, bottom: 0 }
                    }
                }
            }
        }
    });
}

for (let r = 0; r < 5; r++) {
    for (let c = 0; c < 3; c++) {
        makePanel(r, c);
    }
}
</script>
</body>
</html>
